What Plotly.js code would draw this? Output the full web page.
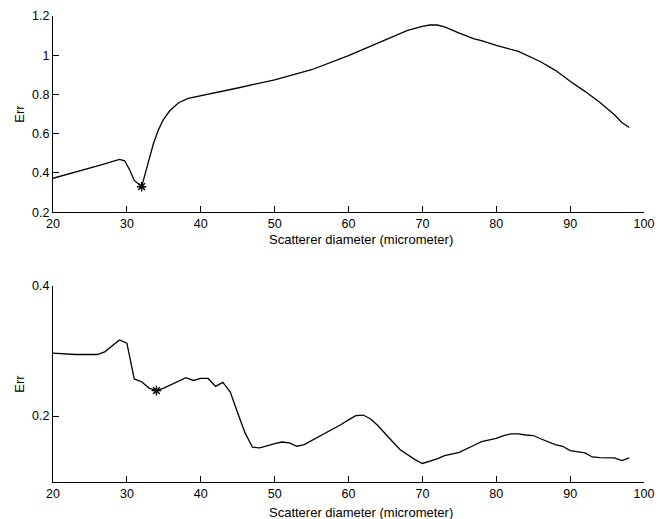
<!DOCTYPE html>
<html>
<head>
<meta charset="utf-8">
<script src="https://cdn.plot.ly/plotly-3.0.1.min.js"></script>
<style>html,body{margin:0;padding:0;background:#fff;}#chart{width:669px;height:519px;}</style>
</head>
<body>
<div id="chart"></div>
<script>
// Top panel: Err vs scatterer diameter
const topX = [20, 25, 26.4, 29, 29.7, 30.4, 31, 32, 32.7, 33.6, 34.25, 34.9, 35.8, 37, 38.3, 41.2, 45, 50, 55, 60, 65, 68, 70, 71, 72, 73, 75, 77, 78, 80, 83, 85, 86, 88, 90, 92, 94, 96, 97, 98];
const topY = [0.373, 0.424, 0.440, 0.469, 0.462, 0.414, 0.362, 0.330, 0.431, 0.550, 0.618, 0.669, 0.717, 0.758, 0.780, 0.802, 0.833, 0.875, 0.926, 0.998, 1.079, 1.127, 1.147, 1.154, 1.154, 1.144, 1.113, 1.083, 1.074, 1.050, 1.020, 0.986, 0.967, 0.923, 0.867, 0.816, 0.760, 0.697, 0.657, 0.632];
const topMinX = [32];
const topMinY = [0.330];

// Bottom panel
const botX = [20, 23, 26, 27, 29, 30, 31, 32, 33, 34, 35, 37, 38, 39, 40, 41, 42, 43, 44, 45, 46, 47, 48, 50, 51, 52, 53, 54, 56, 58, 59, 60, 61, 62, 63, 64, 65, 66, 67, 68, 69, 70, 72, 73, 75, 77, 78, 80, 81, 82, 83, 84, 85, 86, 88, 89, 90, 92, 93, 94, 96, 97, 98];
const botY = [0.2967, 0.2946, 0.2946, 0.2987, 0.317, 0.312, 0.257, 0.2527, 0.243, 0.239, 0.243, 0.2537, 0.259, 0.2547, 0.258, 0.2578, 0.2455, 0.2517, 0.2368, 0.2046, 0.174, 0.152, 0.151, 0.1575, 0.160, 0.1586, 0.1535, 0.156, 0.168, 0.180, 0.187, 0.194, 0.2005, 0.2015, 0.1955, 0.185, 0.172, 0.160, 0.148, 0.140, 0.133, 0.127, 0.134, 0.139, 0.144, 0.155, 0.1606, 0.1657, 0.170, 0.1724, 0.1724, 0.1708, 0.170, 0.165, 0.156, 0.1535, 0.1468, 0.1432, 0.137, 0.136, 0.1355, 0.1315, 0.1355];
const botMinX = [34];
const botMinY = [0.239];

const xTicks = [20, 30, 40, 50, 60, 70, 80, 90, 100];
const topYTicks = [0.2, 0.4, 0.6, 0.8, 1, 1.2];
const botYTicks = [0.2, 0.4];
const xTitle = 'Scatterer diameter (micrometer)';
const yTitle = 'Err';

const fam = 'Arial, "Liberation Sans", sans-serif';
const tickFnt = {family: fam, size: 12.5, color: '#000'};
const titleFnt = {family: fam, size: 13, color: '#000'};
const lineStyle = {color: '#000', width: 1.3};
const markerStyle = {symbol: 'asterisk-open', size: 8, color: '#000', line: {color: '#000', width: 1.4}};

const traces = [
  {x: topX, y: topY, mode: 'lines', line: lineStyle, xaxis: 'x', yaxis: 'y', hoverinfo: 'skip'},
  {x: topMinX, y: topMinY, mode: 'markers', marker: markerStyle, xaxis: 'x', yaxis: 'y'},
  {x: botX, y: botY, mode: 'lines', line: lineStyle, xaxis: 'x2', yaxis: 'y2', hoverinfo: 'skip'},
  {x: botMinX, y: botMinY, mode: 'markers', marker: markerStyle, xaxis: 'x2', yaxis: 'y2'}
];

function xax(anchor) {
  return {
    range: [20, 100], tickvals: xTicks, ticks: 'inside', ticklen: 6, tickcolor: '#000', tickwidth: 1,
    showline: true, linecolor: '#000', linewidth: 1, showgrid: false, zeroline: false,
    tickfont: tickFnt, anchor: anchor
  };
}
function yax(anchor, range, ticks, domain) {
  return {
    range: range, tickvals: ticks, ticks: 'inside', ticklen: 6, tickcolor: '#000', tickwidth: 1,
    showline: true, linecolor: '#000', linewidth: 1, showgrid: false, zeroline: false,
    tickfont: tickFnt, anchor: anchor, domain: domain,
    title: {text: yTitle, font: titleFnt, standoff: 4}
  };
}

const layout = {
  width: 669, height: 519,
  margin: {l: 53, r: 25, t: 16, b: 37},
  paper_bgcolor: '#fff', plot_bgcolor: '#fff',
  showlegend: false,
  font: titleFnt,
  xaxis: xax('y'),
  yaxis: yax('x', [0.2, 1.2], topYTicks, [0.579, 1]),
  xaxis2: xax('y2'),
  yaxis2: yax('x2', [0.0985, 0.4], botYTicks, [0, 0.4206]),
  annotations: [
    {text: xTitle, xref: 'paper', yref: 'paper', x: 0.521, y: 0.5204, xanchor: 'center', yanchor: 'middle', showarrow: false, font: titleFnt},
    {text: xTitle, xref: 'paper', yref: 'paper', x: 0.521, y: -0.0658, xanchor: 'center', yanchor: 'middle', showarrow: false, font: titleFnt}
  ]
};

Plotly.newPlot('chart', traces, layout, {staticPlot: true, displayModeBar: false});
</script>
</body>
</html>
